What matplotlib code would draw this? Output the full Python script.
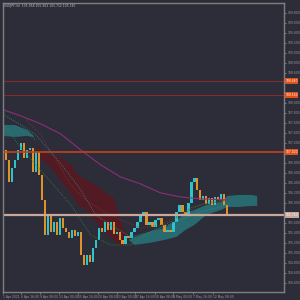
import numpy as np
import matplotlib
matplotlib.use("Agg")
import matplotlib.pyplot as plt
import matplotlib.transforms as mtransforms

# price data (H4 candles), open of first bar then closes
first_open = 107.06
closes = [106.86, 106.42, 106.70, 106.86, 107.06, 107.20, 106.90, 107.06, 107.10, 106.62,
          107.02, 106.56, 106.06, 105.36, 105.76, 105.42, 105.62, 105.36, 105.70, 105.50,
          105.42, 105.30, 105.46, 105.34, 105.42, 104.96, 104.76, 104.96, 104.82, 105.10,
          105.26, 105.50, 105.42, 105.62, 105.46, 105.62, 105.38, 105.42, 105.26, 105.18,
          105.34, 105.30, 105.42, 105.50, 105.62, 105.76, 105.82, 105.56, 105.62, 105.52,
          105.66, 105.70, 105.56, 105.42, 105.46, 105.42, 105.62, 105.82, 105.96, 105.82,
          105.76, 106.00, 106.42, 106.50, 106.26, 106.06, 106.14, 105.98, 106.10, 105.96,
          106.12, 106.06, 106.18, 105.96, 105.74]

# ichimoku cloud
cloud_x = [-0.7, 3, 7, 9, 10, 12, 15, 18, 22, 24, 27, 30, 33, 36, 38, 41, 43, 48, 53, 57,
           60, 63, 67, 70, 72, 74, 78, 82, 84]
span_a = [107.56, 107.56, 107.46, 107.36, 107.22, 106.86, 106.72, 106.46, 106.16, 105.96,
          105.86, 105.62, 105.42, 105.26, 105.14, 105.26, 105.32, 105.42, 105.50, 105.66,
          105.80, 105.86, 105.96, 106.00, 106.02, 106.14, 106.16, 106.16, 106.14]
span_b = [107.34, 107.32, 107.34, 107.32, 107.22, 107.02, 106.96, 106.92, 106.76, 106.56,
          106.46, 106.36, 106.22, 106.10, 105.66, 105.26, 105.16, 105.20, 105.26, 105.32,
          105.46, 105.56, 105.76, 105.82, 105.86, 105.92, 105.92, 105.94, 105.94]

# moving averages
ma_x = [-0.7, 5, 11.7, 18.3, 25, 31.7, 38.3, 45, 51.7, 58.3, 65, 74.3]
ma_y = [107.86, 107.74, 107.58, 107.38, 107.06, 106.76, 106.52, 106.38, 106.20, 106.12, 106.08, 106.06]

green_x = [-0.7, 5, 10, 15, 21.7, 28.3, 35, 41.7, 48.3, 55, 61.7, 68.3, 74.3]
green_y = [107.56, 107.10, 106.76, 106.42, 105.96, 105.36, 105.16, 105.16, 105.42, 105.62, 105.90, 106.02, 106.06]
red_x = [6.7, 11.7, 16.7, 21.7, 26.7, 31.7, 38.3, 45, 51.7, 58.3, 65, 74.3]
red_y = [107.66, 107.36, 106.86, 106.36, 106.06, 105.86, 105.66, 105.50, 105.56, 105.76, 105.96, 106.06]
teal_x = [-0.7, 5, 10, 15, 20, 25, 30, 35, 41.7, 48.3, 56.7, 65, 74.3]
teal_y = [107.76, 107.56, 107.36, 107.02, 106.66, 106.26, 105.76, 105.56, 105.32, 105.42, 105.62, 105.82, 105.96]

# horizontal levels
levels = [108.44, 108.16, 107.02]
current_price = 105.76

date_pos = [-1, 5, 11.3, 17.7, 24, 30.7, 37, 43.3, 49.7, 56, 62.7, 69.3]
date_labels = ["1 Apr 2021", "6 Apr 16:00", "9 Apr 08:00", "13 Apr 00:00", "15 Apr 16:00",
               "20 Apr 08:00", "23 Apr 00:00", "27 Apr 16:00", "30 Apr 08:00", "5 May 00:00",
               "7 May 16:00", "12 May 08:00"]

bg = "#2c2d39"
bull = "#2ec4cc"
bear = "#e0922a"

fig = plt.figure(figsize=(3, 3), dpi=100, facecolor=bg)
ax = fig.add_axes([0.01, 0.027, 0.937, 0.963], facecolor=bg)

# cloud
ca = np.array(span_a)
cb = np.array(span_b)
ax.fill_between(cloud_x, ca, cb, where=ca >= cb, interpolate=True, color="#286a70", lw=0)
ax.fill_between(cloud_x, ca, cb, where=ca < cb, interpolate=True, color="#521a22", lw=0)

# lines
ax.plot(ma_x, ma_y, color="#8a2f78", lw=0.8)
ax.plot(green_x, green_y, color="#2f8a3a", lw=0.6, ls=(0, (1, 1.5)))
ax.plot(red_x, red_y, color="#8a3030", lw=0.6, ls=(0, (1, 1.5)))
ax.plot(teal_x, teal_y, color="#3a8a8e", lw=0.6, ls=(0, (1, 1.5)))

# levels
ax.axhline(levels[0], color="#8a2a2a", lw=0.7)
ax.axhline(levels[1], color="#8a2a2a", lw=0.7)
ax.axhline(levels[2], color="#c8401c", lw=1.2)
ax.axhline(current_price, color="#c9a89b", lw=1.6)

# candles
opens = [first_open] + closes[:-1]
idx = np.arange(len(closes))
o = np.array(opens)
c = np.array(closes)
cols = [bull if cc >= oo else bear for oo, cc in zip(o, c)]
h = np.abs(c - o)
h[h < 0.02] = 0.02
ax.bar(idx, h, bottom=np.minimum(o, c), width=0.75, color=cols, lw=0)

ax.set_xlim(-0.7, 93)
ax.set_ylim(104.22, 110.0)

# axes styling
for s in ["left", "top", "right", "bottom"]:
    ax.spines[s].set_color("#7f7f7f")
    ax.spines[s].set_linewidth(1.0)
ax.yaxis.tick_right()
yt = np.arange(104.4, 110.0, 0.2)
boxed = levels + [current_price]
ax.set_yticks(yt)
ax.set_yticklabels(["" if min(abs(v - b) for b in boxed) < 0.1 else "%.3f" % v for v in yt])
ax.tick_params(axis="y", colors="#9a9a9a", labelsize=2.2, length=1.5, width=0.5, pad=0.8)
ax.set_xticks(date_pos)
ax.set_xticklabels(date_labels, ha="left")
ax.tick_params(axis="x", colors="#9a9a9a", labelsize=2.2, length=1.5, width=0.5, pad=1)

# price labels on right
trans = mtransforms.blended_transform_factory(ax.transAxes, ax.transData)
for v, col in [(levels[0], "#e0501a"), (levels[1], "#e0501a"), (levels[2], "#e0501a"),
               (current_price, "#c9a89b")]:
    ax.text(1.004, v, "%.3f" % v, transform=trans, fontsize=2.2, color="white",
            va="center", ha="left", clip_on=False,
            bbox=dict(boxstyle="square,pad=0.2", fc=col, ec="none"))

ax.text(0.005, 0.995, "USDJPY,H4  105.958 105.962 105.712 105.740", transform=ax.transAxes,
        fontsize=2.2, color="#c0c0c0", va="top", ha="left")

plt.savefig("out.png", dpi=100, facecolor=bg)
